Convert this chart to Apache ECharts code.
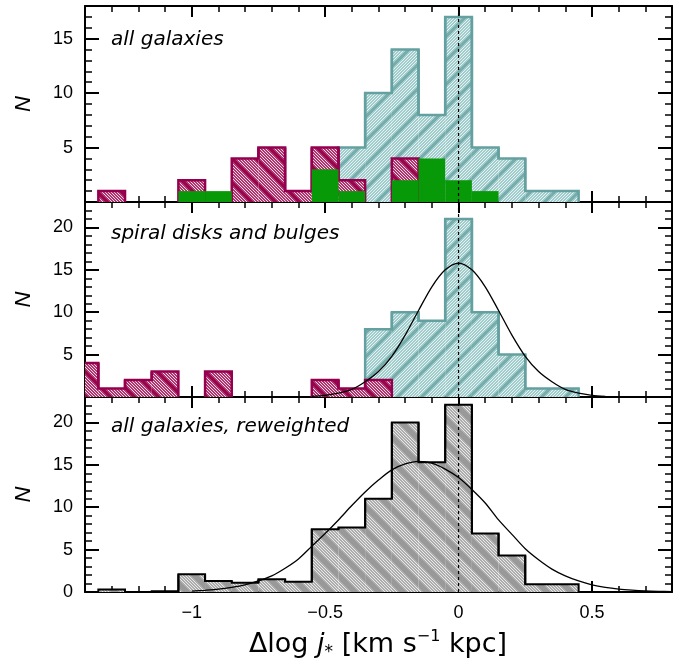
<!DOCTYPE html>
<html>
<head>
<meta charset="utf-8">
<script src="https://cdn.jsdelivr.net/npm/echarts@6/dist/echarts.min.js"></script>
<style>
html, body { margin: 0; padding: 0; background: #fff; }
#chart { width: 699px; height: 665px; }
</style>
</head>
<body>
<div id="chart"></div>
<script>
// bin centres, width 0.1
const binCenters = [-1.4, -1.3, -1.2, -1.1, -1.0, -0.9, -0.8, -0.7, -0.6, -0.5,
  -0.4, -0.3, -0.2, -0.1, 0, 0.1, 0.2, 0.3, 0.4]
const binW = 0.1

// top panel: all galaxies
const allTeal    = [0, 0, 0, 0, 0, 0, 0, 0, 0, 0, 5, 10, 14, 8, 17, 5, 4, 1, 1]
const allMagenta = [0, 1, 0, 0, 2, 0, 4, 5, 1, 5, 2, 0, 4, 0, 0, 0, 0, 0, 0]
const allGreen   = [0, 0, 0, 0, 1, 1, 0, 0, 0, 3, 1, 0, 2, 4, 2, 1, 0, 0, 0]

// middle panel: spiral disks and bulges
const spiralTeal    = [0, 0, 0, 0, 0, 0, 0, 0, 0, 0, 0, 8, 10, 9, 21, 10, 5, 1, 1]
const spiralMagenta = [4, 1, 2, 3, 0, 3, 0, 0, 0, 2, 1, 2, 0, 0, 0, 0, 0, 0, 0]

// bottom panel: all galaxies, reweighted
const reweightedGray = [0, 0.3, 0, 0.1, 2.1, 1.3, 1.1, 1.5, 1.2, 7.4, 7.6, 11.0, 20.0, 15.3, 22.1, 6.9, 4.3, 0.9, 0.9]

// fitted curves
const spiralFitX = [-0.55, -0.5, -0.45, -0.4, -0.35, -0.3, -0.25, -0.2, -0.15, -0.1, -0.05, 0,
  0.05, 0.1, 0.15, 0.2, 0.25, 0.3, 0.35, 0.4, 0.45, 0.5, 0.55]
const spiralFitY = [0.08, 0.2, 0.45, 0.9, 1.8, 3.0, 4.8, 7.3, 10.2, 13.0, 15.0, 15.8,
  15.0, 13.0, 10.2, 7.3, 4.8, 3.0, 1.8, 0.9, 0.45, 0.2, 0.08]

const rewFitX = [-1.0, -0.95, -0.9, -0.85, -0.8, -0.75, -0.7, -0.65, -0.6, -0.55, -0.5, -0.45,
  -0.4, -0.35, -0.3, -0.25, -0.2, -0.15, -0.1, -0.05, 0, 0.05, 0.1, 0.15, 0.2, 0.25, 0.3,
  0.35, 0.4, 0.45, 0.5, 0.55, 0.6, 0.65, 0.7, 0.75, 0.8]
const rewFitY = [0.1, 0.2, 0.33, 0.55, 0.85, 1.3, 1.9, 2.8, 3.9, 5.4, 6.9, 8.5,
  10.2, 11.8, 13.2, 14.4, 15.1, 15.4, 15.2, 14.5, 13.5, 12.1, 10.5, 8.5, 6.8, 5.1, 3.8,
  2.7, 1.9, 1.3, 0.85, 0.55, 0.35, 0.22, 0.13, 0.08, 0.05]

const majorX = [-1, -0.5, 0, 0.5]
const refX = 0

const panels = [
  { top: 6, height: 196, yMax: 18, zeroLabel: false, title: 'all galaxies', ty: 40 },
  { top: 202, height: 195, yMax: 23, zeroLabel: false, title: 'spiral disks and bulges', ty: 234 },
  { top: 397, height: 195, yMax: 23, zeroLabel: true, title: 'all galaxies, reweighted', ty: 427 }
]

// hatch tiles
function hatch(base, thin, stripe, slash, stripeW) {
  const s = 24
  const cv = document.createElement('canvas')
  cv.width = cv.height = s
  const ctx = cv.getContext('2d')
  for (let y = 0; y < s; y++) {
    for (let x = 0; x < s; x++) {
      const k = slash ? (x + y) : (x - y + s * 4)
      let c = base
      if (k % 3 === 0) c = thin
      if (k % s < stripeW) c = stripe
      ctx.fillStyle = c
      ctx.fillRect(x, y, 1, 1)
    }
  }
  return { image: cv, repeat: 'repeat' }
}
const tealFill = hatch('#a0cccc', '#e6f2f2', '#78adad', true, 4)
const magentaFill = hatch('#b0356f', '#f4d6e4', '#98064f', false, 4)
const grayFill = hatch('#adadad', '#e8e8e8', '#999999', false, 7)

function hist(p, counts, fill, stroke, strokeW, z) {
  return {
    type: 'custom',
    xAxisIndex: p * 4,
    yAxisIndex: p * 4,
    clip: true,
    z: z,
    silent: true,
    data: binCenters.map((c, i) => [c, counts[i], i > 0 ? counts[i - 1] : 0, i < counts.length - 1 ? counts[i + 1] : 0]),
    renderItem(params, api) {
      const c = api.value(0), h = api.value(1)
      if (!(h > 0)) return null
      const a = api.coord([c - binW / 2, 0])
      const b = api.coord([c + binW / 2, h])
      const yp = api.coord([c, api.value(2)])[1]
      const yn = api.coord([c, api.value(3)])[1]
      const children = [{
        type: 'rect', z2: 0,
        shape: { x: a[0], y: b[1], width: b[0] - a[0], height: a[1] - b[1] },
        style: { fill: fill }
      }]
      if (stroke) {
        children.push({
          type: 'polyline', z2: 10,
          shape: { points: [[a[0], yp], [a[0], b[1]], [b[0], b[1]], [b[0], yn]] },
          style: { fill: null, stroke: stroke, lineWidth: strokeW }
        })
      }
      return { type: 'group', children: children }
    }
  }
}

function curve(p, xs, ys) {
  return {
    type: 'line', xAxisIndex: p * 4, yAxisIndex: p * 4, z: 15,
    data: xs.map((x, i) => [x, ys[i]]),
    showSymbol: false, smooth: 0.3, silent: true,
    lineStyle: { color: '#000', width: 1.3 }
  }
}

function refLine(p) {
  return {
    type: 'line', xAxisIndex: p * 4, yAxisIndex: p * 4, z: 20,
    data: [[refX, 0], [refX, panels[p].yMax]],
    showSymbol: false, silent: true,
    lineStyle: { color: '#000', width: 1.2, type: [3, 3] }
  }
}

const tickFont = { fontFamily: 'Liberation Sans', fontSize: 18, color: '#000' }
const grid = [], xAxis = [], yAxis = []
panels.forEach((pn, p) => {
  // minor grid and major grid share the same rect
  for (let k = 0; k < 2; k++) {
    grid.push({ left: 85, width: 587, top: pn.top, height: pn.height })
  }
  const gMinor = p * 2, gMajor = p * 2 + 1
  ;['bottom', 'top'].forEach(pos => {
    xAxis.push({
      gridIndex: gMinor, type: 'value', position: pos, min: -1.4, max: 0.8, interval: 0.1,
      axisLine: { show: false, onZero: false }, splitLine: { show: false }, axisLabel: { show: false },
      axisTick: { inside: true, length: 6, lineStyle: { color: '#000', width: 1.5 } }
    })
  })
  ;['bottom', 'top'].forEach(pos => {
    xAxis.push({
      gridIndex: gMajor, type: 'value', position: pos, min: -1.4, max: 0.8,
      axisLine: { show: true, onZero: false, lineStyle: { color: '#000', width: 2 } },
      splitLine: { show: false },
      axisTick: { inside: true, length: 11, customValues: majorX, lineStyle: { color: '#000', width: 2 } },
      axisLabel: {
        show: p === 2 && pos === 'bottom', customValues: majorX, margin: 12,
        formatter: v => (v < 0 ? '\u2212' + Math.abs(v) : String(v)), ...tickFont
      }
    })
  })
  ;['left', 'right'].forEach(pos => {
    yAxis.push({
      gridIndex: gMinor, type: 'value', position: pos, min: 0, max: pn.yMax, interval: 1,
      axisLine: { show: false, onZero: false }, splitLine: { show: false }, axisLabel: { show: false },
      axisTick: { inside: true, length: 7, lineStyle: { color: '#000', width: 1.5 } }
    })
  })
  ;['left', 'right'].forEach(pos => {
    yAxis.push({
      gridIndex: gMajor, type: 'value', position: pos, min: 0, max: pn.yMax, interval: 5,
      axisLine: { show: true, onZero: false, lineStyle: { color: '#000', width: 2 } },
      splitLine: { show: false },
      axisTick: { inside: true, length: 14, lineStyle: { color: '#000', width: 2 } },
      axisLabel: {
        show: pos === 'left', margin: 12,
        formatter: v => (v % 5 !== 0 || (v === 0 && !pn.zeroLabel)) ? '' : String(v), ...tickFont
      },
      name: pos === 'left' ? 'N' : '', nameLocation: 'middle', nameGap: 50, nameRotate: 90,
      nameTextStyle: { fontFamily: 'Liberation Sans', fontSize: 22, fontStyle: 'italic', color: '#000' }
    })
  })
})

const series = [
  hist(0, allTeal, tealFill, '#64a0a0', 2.5, 2),
  hist(0, allMagenta, magentaFill, '#94004f', 2.5, 3),
  hist(0, allGreen, '#079907', null, 0, 4),
  refLine(0),
  hist(1, spiralTeal, tealFill, '#64a0a0', 2.5, 2),
  hist(1, spiralMagenta, magentaFill, '#94004f', 2.5, 3),
  curve(1, spiralFitX, spiralFitY),
  refLine(1),
  hist(2, reweightedGray, grayFill, '#000', 2, 2),
  curve(2, rewFitX, rewFitY),
  refLine(2)
]

const graphic = panels.map(pn => ({
  type: 'text', x: 111, y: pn.ty, z: 30,
  style: { text: pn.title, font: 'italic 20px "DejaVu Sans"', fill: '#000', align: 'left', verticalAlign: 'middle' }
}))
graphic.push({
  type: 'text', x: 378, y: 645, z: 30,
  style: {
    text: '{d|\u0394log }{j|j}{s|*}{d| [km s}{p|\u22121}{d| kpc]}',
    align: 'center', verticalAlign: 'middle', fill: '#000',
    rich: {
      d: { fontFamily: 'DejaVu Sans', fontSize: 27, lineHeight: 32, fill: '#000' },
      j: { fontFamily: 'DejaVu Sans', fontSize: 27, fontStyle: 'italic', lineHeight: 32, fill: '#000' },
      s: { fontFamily: 'DejaVu Sans', fontSize: 17, lineHeight: 15, verticalAlign: 'bottom', fill: '#000' },
      p: { fontFamily: 'DejaVu Sans', fontSize: 16, lineHeight: 17, verticalAlign: 'top', fill: '#000' }
    }
  }
})

const myChart = echarts.init(document.getElementById('chart'), null, { renderer: 'canvas' })
myChart.setOption({
  animation: false,
  grid, xAxis, yAxis, series, graphic
})
</script>
</body>
</html>
